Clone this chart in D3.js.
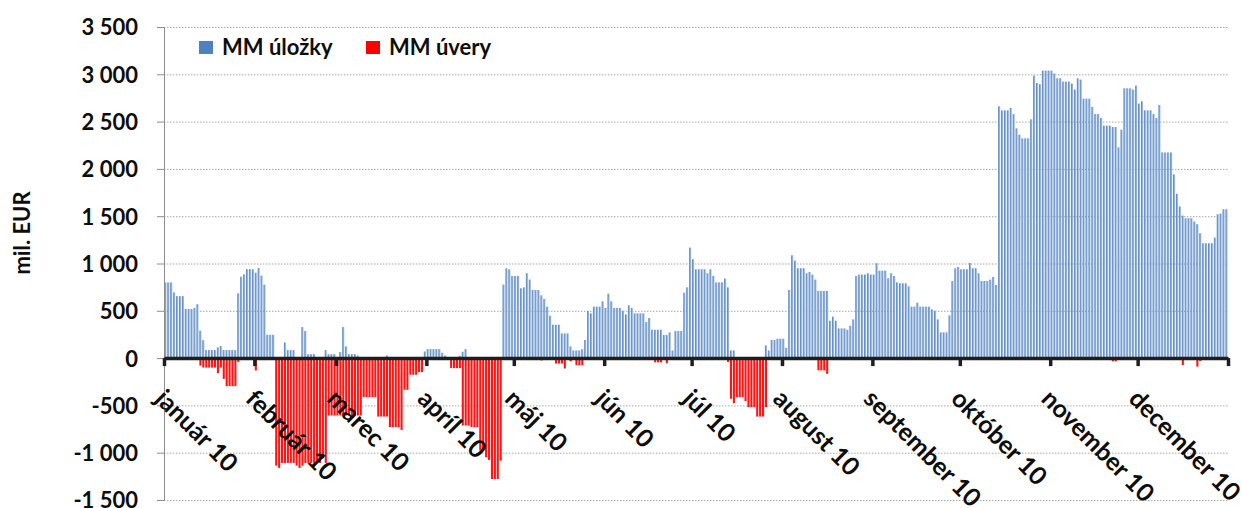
<!DOCTYPE html>
<meta charset="utf-8">
<script src="https://d3js.org/d3.v7.min.js"></script>
<style>
body { margin: 0; background: #fff; }
svg text { font-family: Lato, "Open Sans", sans-serif; fill: #0d0d0d; font-weight: bold; }
.grid line { stroke: #a8a8a8; stroke-width: 1px; stroke-dasharray: 1.5 1.5; }
.grid path { display: none; }
.y.axis path { stroke: #8c8c8c; }
.y.axis line { stroke: #8c8c8c; }
.y.axis text { font-size: 22px; }
.month text { font-size: 25px; }
.legend text { font-size: 22px; }
</style>
<body></body>
<script>

var months = ["január 10", "február 10", "marec 10", "apríl 10", "máj 10", "jún 10",
              "júl 10", "august 10", "september 10", "október 10", "november 10", "december 10"];

var yTicks = [-1500, -1000, -500, 0, 500, 1000, 1500, 2000, 2500, 3000, 3500];

// MM úložky, mil. EUR, one value per calendar day of 2010 (weekends carry Friday's value)
var deposits = [
  800, 800, 800, 695, 655, 655, 655, 520, 520, 520, 530, 570, 290, 190, 85, 85, 85, 85, 113, 127, 85, 85, 85, 85, 85, 685, 860, 886, 940, 940, 940,
  903, 953, 872, 777, 247, 247, 247, 0, 0, 0, 166, 85, 85, 85, 0, 0, 328, 286, 42, 42, 42, 0, 0, 0, 85, 42, 42, 42,
  0, 64, 328, 124, 42, 42, 42, 28, 0, 0, 0, 0, 0, 0, 0, 0, 0, 28, 0, 0, 0, 0, 0, 0, 0, 0, 0, 0, 0, 0, 70,
  95, 95, 95, 95, 95, 56, 28, 0, 0, 0, 0, 25, 67, 95, 0, 0, 0, 0, 0, 0, 0, 0, 0, 0, 0, 0, 777, 950, 939, 868,
  868, 868, 738, 748, 897, 830, 720, 720, 720, 664, 625, 544, 448, 353, 353, 353, 261, 261, 261, 124, 81, 81, 81, 95, 191, 498, 473, 544, 544, 544, 600,
  530, 681, 600, 530, 530, 530, 501, 462, 558, 530, 473, 473, 473, 473, 381, 424, 300, 300, 300, 300, 244, 244, 272, 81, 286, 286, 286, 692, 748, 1168,
  1045, 939, 939, 939, 939, 897, 939, 868, 801, 801, 801, 840, 748, 81, 81, 0, 0, 0, 0, 0, 0, 0, 0, 0, 0, 134, 81, 191, 191, 205, 205,
  205, 109, 720, 1087, 1031, 950, 950, 950, 897, 911, 883, 830, 710, 710, 710, 710, 395, 438, 395, 314, 314, 314, 300, 342, 409, 868, 883, 883, 883, 897, 883,
  883, 1003, 925, 925, 925, 844, 897, 868, 801, 791, 791, 791, 759, 544, 544, 586, 544, 544, 544, 544, 515, 501, 409, 272, 272, 272, 452, 815, 950, 964,
  939, 939, 939, 1006, 950, 950, 897, 815, 815, 815, 830, 858, 773, 2662, 2619, 2619, 2619, 2644, 2580, 2429, 2362, 2323, 2323, 2323, 2524, 2986, 2909, 2895, 3039, 3039, 3039,
  3039, 3008, 2958, 2958, 2923, 2923, 2923, 2902, 2838, 2958, 2944, 2743, 2743, 2743, 2655, 2580, 2580, 2538, 2457, 2457, 2457, 2443, 2443, 2227, 2415, 2852, 2852, 2852, 2838, 2880,
  2690, 2715, 2619, 2619, 2619, 2580, 2538, 2676, 2174, 2174, 2174, 2174, 1942, 1737, 1603, 1507, 1479, 1479, 1479, 1444, 1416, 1320, 1214, 1214, 1214, 1214, 1274, 1521, 1528, 1574, 1574
];

// MM úvery, mil. EUR
var loans = [
  0, 0, 0, 0, 0, 0, 0, 0, 0, 0, 0, 0, -80, -100, -100, -100, -100, -100, -160, -100, -220, -297, -297, -297, -297, -40, 0, 0, 0, 0, 0,
  -130, 0, 0, 0, -15, -15, -15, -1137, -1161, -1108, -1108, -1108, -1108, -1108, -1137, -1161, -1137, -1108, -1108, -1108, -1108, -1085, -1108, -1060, -1108, -607, -607, -607,
  -607, -607, -607, -607, -607, -607, -607, -607, -607, -413, -413, -413, -413, -413, -618, -618, -618, -618, -730, -730, -730, -730, -759, -335, -335, -176, -176, -176, -148, -148, 0,
  0, 0, 0, 0, 0, 0, 0, 0, -106, -106, -106, -106, -713, -713, -713, -730, -730, -730, -978, -978, -1048, -1077, -1278, -1278, -1278, -1084, 0, 0, 0, 0,
  0, 0, 0, 0, 0, 0, 0, 0, 0, -25, 0, 0, 0, 0, -58, -58, -58, -110, 0, -35, 0, -76, -76, -76, 0, 0, 0, 0, 0, 0, 0,
  0, 0, 0, 0, 0, 0, 0, 0, 0, 0, 0, 0, 0, 0, 0, 0, 0, -45, -45, -45, 0, -55, 0, 0, 0, 0, 0, 0, 0, 0,
  0, 0, 0, 0, 0, 0, 0, 0, 0, 0, 0, 0, -42, -430, -477, -413, -413, -413, -455, -519, -519, -519, -618, -618, -618, -519, 0, 0, 0, 0, 0,
  0, 0, 0, 0, 0, 0, 0, 0, 0, 0, 0, 0, -130, -130, -130, -166, 0, 0, 0, 0, 0, 0, 0, 0, 0, 0, 0, 0, 0, 0, 0,
  0, 0, 0, 0, 0, 0, 0, 0, 0, 0, 0, 0, 0, 0, 0, 0, 0, 0, 0, 0, 0, 0, 0, 0, 0, 0, 0, 0, 0, 0,
  0, 0, 0, 0, 0, 0, 0, 0, 0, 0, 0, 0, 0, 0, 0, 0, 0, 0, 0, 0, 0, 0, 0, 0, 0, 0, 0, 0, 0, 0, 0,
  0, 0, 0, 0, 0, 0, 0, 0, 0, 0, 0, 0, 0, 0, 0, 0, 0, 0, 0, 0, 0, -35, -35, 0, 0, 0, 0, 0, 0, 0,
  0, 0, 0, 0, 0, 0, 0, 0, 0, 0, 0, 0, 0, 0, 0, -75, 0, 0, 0, 0, -90, -30, 0, 0, 0, 0, 0, 0, 0, 0, 0
];

var width = 1242, height = 508;
var plot = {left: 164, right: 1228, top: 27, bottom: 500};

var start = new Date(Date.UTC(2010, 0, 1)),
    end = new Date(Date.UTC(2011, 0, 1));
var days = d3.utcDay.range(start, end);

var locale = d3.formatLocale({decimal: ",", thousands: " ", grouping: [3], currency: ["", " €"], minus: "-"});
var fmt = locale.format(",");

var x = d3.scaleUtc().domain([start, end]).range([plot.left, plot.right]);
var y = d3.scaleLinear().domain([-1500, 3500]).range([plot.bottom, plot.top]);

var svg = d3.select("body").append("svg")
    .attr("width", width)
    .attr("height", height);

var defs = svg.append("defs");
var gBlue = defs.append("linearGradient").attr("id", "blueFill");
gBlue.append("stop").attr("offset", "0%").attr("stop-color", "#4a7dbc");
gBlue.append("stop").attr("offset", "100%").attr("stop-color", "#b3cae8");

// gridlines
svg.append("g")
    .attr("class", "grid")
    .attr("transform", "translate(" + plot.left + ",0)")
    .call(d3.axisLeft(y).tickValues(yTicks).tickSize(-(plot.right - plot.left)).tickFormat(""));

var dayW = x(days[1]) - x(days[0]);
var barW = dayW * 0.72;

svg.append("g").selectAll("rect")
    .data(days)
    .enter()
    .append("rect")
    .attr("x", function(d) { return x(d) + (dayW - barW) / 2; })
    .attr("width", barW)
    .attr("y", function(d, i) { return y(Math.max(0, deposits[i])); })
    .attr("height", function(d, i) { return Math.abs(y(0) - y(deposits[i])); })
    .style("fill", "url(#blueFill)");

svg.append("g").selectAll("rect")
    .data(days)
    .enter()
    .append("rect")
    .attr("x", function(d) { return x(d) + (dayW - barW) / 2; })
    .attr("width", barW)
    .attr("y", y(0))
    .attr("height", function(d, i) { return Math.abs(y(loans[i]) - y(0)); })
    .style("fill", "#ff1414");

// y axis
var yAxisG = svg.append("g")
    .attr("class", "y axis")
    .attr("transform", "translate(" + plot.left + ",0)")
    .call(d3.axisLeft(y).tickValues(yTicks).tickSize(7).tickSizeOuter(0).tickPadding(19).tickFormat(fmt));
yAxisG.selectAll("text").attr("dy", "0.36em");

// zero axis with month ticks
var monthStarts = d3.utcMonth.range(start, d3.utcDay.offset(end, 1));
var zeroAxis = svg.append("g")
    .attr("class", "month")
    .attr("transform", "translate(0," + y(0) + ")")
    .call(d3.axisBottom(x).tickValues(monthStarts).tickSize(8).tickSizeOuter(0).tickFormat(""));
zeroAxis.select(".domain").attr("stroke", "#1e1e1e").attr("stroke-width", 3.5);
zeroAxis.selectAll(".tick line").attr("stroke", "#1e1e1e").attr("stroke-width", 3.5);

svg.append("g")
    .attr("class", "month")
    .selectAll("text")
    .data(monthStarts.slice(0, 12))
    .enter()
    .append("text")
    .attr("transform", function(d) { return "translate(" + (x(d) - 4) + "," + 394 + ") rotate(45)"; })
    .attr("dy", "0.35em")
    .text(function(d, i) { return months[i]; });

// y label
svg.append("text")
    .attr("transform", "translate(30," + 233 + ") rotate(-90)")
    .attr("text-anchor", "middle")
    .style("font-size", "22px")
    .text("mil. EUR");

// legend
var legend = svg.append("g").attr("class", "legend");
var legendItems = [{name: "MM úložky", color: "#4f81bd", x: 199}, {name: "MM úvery", color: "#ff0000", x: 366}];
legend.selectAll("rect")
    .data(legendItems)
    .enter()
    .append("rect")
    .attr("x", function(d) { return d.x; })
    .attr("y", 41)
    .attr("width", 14)
    .attr("height", 13)
    .style("fill", function(d) { return d.color; });
legend.selectAll("text")
    .data(legendItems)
    .enter()
    .append("text")
    .attr("x", function(d) { return d.x + 23; })
    .attr("y", 55)
    .text(function(d) { return d.name; });

</script>
